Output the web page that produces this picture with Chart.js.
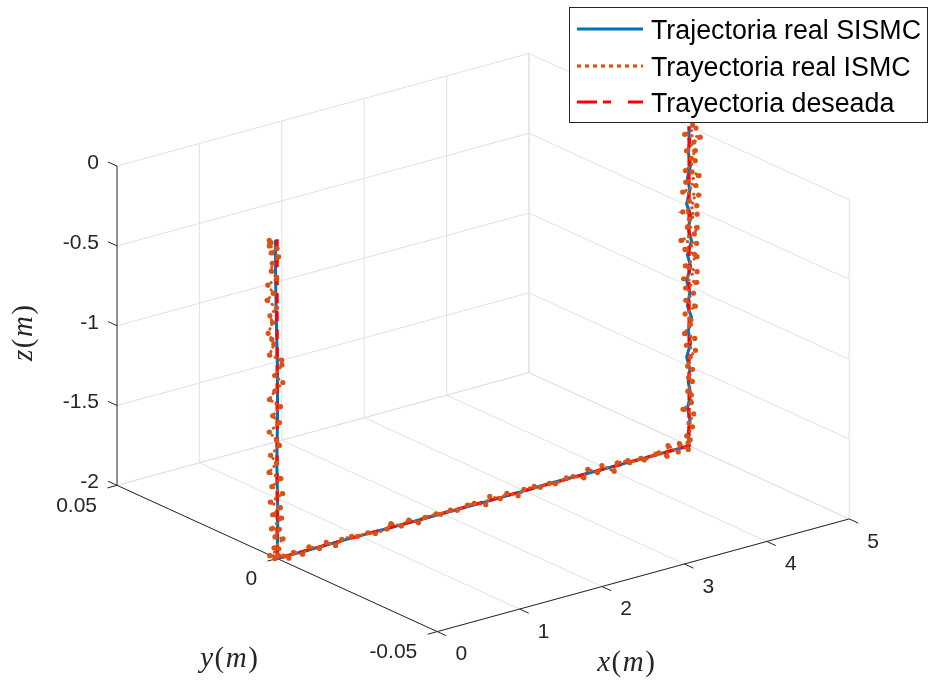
<!DOCTYPE html>
<html>
<head>
<meta charset="utf-8">
<script src="https://cdn.jsdelivr.net/npm/chart.js@4/dist/chart.umd.min.js"></script>
<style>
  html, body { margin: 0; padding: 0; background: #ffffff; }
  canvas { display: block; }
</style>
</head>
<body>
<canvas id="c" width="931" height="686" style="width:931px;height:686px"></canvas>
<script>
// ---- axis ticks ----
const xTicks = [0, 1, 2, 3, 4, 5];
const yTicks = [-0.05, 0, 0.05];
const zTicks = [-2, -1.5, -1, -0.5, 0];
const xTickLabels = ['0', '1', '2', '3', '4', '5'];
const yTickLabels = ['-0.05', '0', '0.05'];
const zTickLabels = ['-2', '-1.5', '-1', '-0.5', '0'];
const seriesNames = ['Trajectoria real SISMC', 'Trayectoria real ISMC', 'Trayectoria deseada'];

// ---- trajectories, [x, y, z] in metres ----
const desiredPath = [[0, 0, 0], [0, 0, -2], [5, 0, -2], [5, 0, 0]];

const sismcPath = [
  [-0.02, 0, 0], [-0.015, 0.0001, -0.25], [-0.01, 0, -0.5], [0.0, -0.0001, -0.8], [0.005, 0, -1.1],
  [0.0, 0.0001, -1.4], [0.008, 0, -1.7], [0.003, -0.0001, -1.9], [0, 0, -2],
  [0.4, 0.0002, -2.004], [0.9, -0.0002, -1.996], [1.5, 0.0001, -2.003], [2.1, -0.0003, -1.998],
  [2.7, 0.0002, -2.005], [3.3, -0.0001, -1.995], [3.9, 0.0003, -2.004], [4.4, -0.0002, -1.997],
  [4.8, 0.0001, -2.002], [5.0, 0, -2.0],
  [4.99, 0, -1.92], [5.01, 0, -1.84], [4.98, 0, -1.76], [5.02, 0, -1.68], [4.99, 0, -1.60],
  [5.01, 0, -1.52], [4.97, 0, -1.44], [5.02, 0, -1.36], [4.99, 0, -1.28], [5.03, 0, -1.20],
  [4.98, 0, -1.12], [5.01, 0, -1.04], [4.97, 0, -0.96], [5.02, 0, -0.88], [4.98, 0, -0.80],
  [5.03, 0, -0.72], [4.99, 0, -0.64], [5.02, 0, -0.56], [4.97, 0, -0.48], [5.01, 0, -0.40],
  [4.98, 0, -0.32], [5.02, 0, -0.24], [4.99, 0, -0.16], [5.01, 0, -0.08], [5.00, 0, 0.0]
];

const ismcPath = [
  // descent at x = 0
  [-0.08, 0.0004, 0.00], [-0.10, -0.0003, -0.01], [-0.05, 0.0006, -0.02], [-0.09, 0.0001, -0.03],
  [-0.02, -0.0005, -0.05], [-0.06, 0.0003, -0.08], [0.01, -0.0002, -0.11], [-0.04, 0.0005, -0.15],
  [-0.07, 0.0000, -0.19], [-0.02, -0.0004, -0.24], [-0.09, 0.0006, -0.28], [-0.05, -0.0001, -0.33],
  [-0.11, 0.0003, -0.37], [-0.03, -0.0006, -0.42], [-0.08, 0.0002, -0.47], [-0.04, 0.0004, -0.52],
  [-0.12, -0.0003, -0.57], [-0.06, 0.0001, -0.62], [-0.02, 0.0005, -0.66], [-0.10, -0.0002, -0.71],
  [0.04, -0.0004, -0.76], [0.07, 0.0003, -0.80], [-0.03, 0.0000, -0.85], [0.05, -0.0005, -0.90],
  [-0.02, 0.0002, -0.95], [-0.07, 0.0006, -1.00], [0.03, -0.0003, -1.05], [-0.05, 0.0001, -1.10],
  [0.02, -0.0002, -1.15], [-0.08, 0.0004, -1.20], [-0.03, -0.0006, -1.25], [0.04, 0.0003, -1.30],
  [-0.06, 0.0005, -1.35], [-0.01, -0.0001, -1.40], [-0.09, 0.0002, -1.45], [0.03, -0.0004, -1.50],
  [-0.04, 0.0006, -1.55], [0.06, -0.0002, -1.60], [-0.07, 0.0003, -1.64], [0.02, -0.0005, -1.68],
  [-0.05, 0.0001, -1.72], [0.07, 0.0004, -1.76], [-0.08, -0.0003, -1.80], [0.05, 0.0006, -1.83],
  [-0.03, -0.0001, -1.86], [0.08, 0.0002, -1.89], [-0.06, -0.0006, -1.92], [0.04, 0.0005, -1.95],
  [-0.09, 0.0000, -1.97], [0.06, -0.0004, -1.99], [-0.02, 0.0002, -2.00],
  // run along x at z = -2
  [0.03, 0.0005, -1.988], [0.12, -0.0006, -2.010], [0.21, 0.0003, -1.994], [0.30, -0.0002, -2.014],
  [0.41, 0.0006, -1.991], [0.50, -0.0004, -2.004], [0.60, 0.0001, -1.985], [0.69, -0.0005, -2.011],
  [0.80, 0.0004, -1.997], [0.90, -0.0001, -1.987], [1.00, 0.0006, -2.008], [1.09, -0.0003, -1.990],
  [1.20, 0.0002, -2.015], [1.31, -0.0006, -1.995], [1.40, 0.0005, -1.984], [1.50, -0.0002, -2.006],
  [1.61, 0.0003, -1.989], [1.70, -0.0004, -2.013], [1.80, 0.0001, -1.998], [1.91, -0.0005, -1.986],
  [2.00, 0.0004, -2.009], [2.10, -0.0001, -1.993], [2.21, 0.0006, -2.016], [2.30, -0.0003, -1.988],
  [2.40, 0.0002, -1.996], [2.51, -0.0006, -2.012], [2.60, 0.0005, -1.983], [2.70, -0.0002, -2.005],
  [2.80, 0.0003, -1.990], [2.91, -0.0004, -2.014], [3.00, 0.0001, -1.992], [3.10, -0.0005, -1.982],
  [3.21, 0.0004, -2.010], [3.30, -0.0001, -1.994], [3.40, 0.0006, -2.017], [3.50, -0.0003, -1.987],
  [3.60, 0.0002, -1.997], [3.70, -0.0006, -2.012], [3.79, 0.0005, -1.981], [3.88, -0.0002, -2.008],
  [3.97, 0.0007, -1.985], [4.06, -0.0008, -2.020], [4.14, 0.0003, -1.989], [4.23, -0.0007, -1.978],
  [4.31, 0.0008, -2.016], [4.40, -0.0004, -1.991], [4.48, 0.0006, -2.021], [4.56, -0.0009, -1.982],
  [4.64, 0.0002, -1.996], [4.71, -0.0006, -2.019], [4.78, 0.0009, -1.976], [4.85, -0.0005, -2.013],
  [4.91, 0.0007, -1.980], [4.96, -0.0008, -2.010], [5.00, 0.0003, -1.985],
  // climb at x = 5
  [5.03, 0.0004, -1.97], [4.96, -0.0003, -1.93], [5.05, 0.0002, -1.89], [4.98, -0.0005, -1.85],
  [5.06, 0.0001, -1.81], [4.95, 0.0006, -1.77], [5.02, -0.0002, -1.73], [5.04, 0.0003, -1.69],
  [4.97, -0.0004, -1.65], [5.06, 0.0005, -1.61], [4.99, -0.0001, -1.57], [5.05, 0.0002, -1.53],
  [4.96, -0.0006, -1.49], [5.03, 0.0004, -1.45], [5.07, -0.0002, -1.41], [4.98, 0.0003, -1.37],
  [5.05, -0.0005, -1.33], [4.95, 0.0001, -1.29], [5.04, 0.0006, -1.25], [5.01, -0.0003, -1.21],
  [4.96, 0.0002, -1.17], [5.06, -0.0004, -1.13], [4.98, 0.0005, -1.09], [5.05, -0.0001, -1.05],
  [4.97, 0.0003, -1.01],
  [5.07, -0.0006, -0.98], [4.95, 0.0004, -0.95], [5.09, -0.0002, -0.92], [5.02, 0.0006, -0.89],
  [4.94, -0.0004, -0.86], [5.10, 0.0001, -0.83], [5.04, -0.0007, -0.80], [4.97, 0.0005, -0.77],
  [5.08, -0.0003, -0.74], [4.93, 0.0007, -0.71], [5.06, -0.0001, -0.68], [5.11, 0.0003, -0.65],
  [4.96, -0.0005, -0.62], [5.03, 0.0006, -0.59], [5.09, -0.0002, -0.56], [4.94, 0.0004, -0.53],
  [5.07, -0.0006, -0.50], [5.01, 0.0002, -0.47], [5.10, -0.0004, -0.44], [4.95, 0.0007, -0.41],
  [5.08, -0.0001, -0.38], [4.98, 0.0005, -0.35], [5.11, -0.0003, -0.32], [5.04, 0.0001, -0.29],
  [4.93, -0.0007, -0.26], [5.09, 0.0004, -0.23], [5.02, -0.0002, -0.20], [5.10, 0.0006, -0.17],
  [4.95, -0.0005, -0.14], [5.07, 0.0003, -0.11], [5.12, -0.0004, -0.08], [4.97, 0.0006, -0.05],
  [5.08, -0.0001, -0.02], [5.05, 0.0002, 0.00]
];

// ---- 3-D view: orthographic camera expressed as screen basis vectors ----
const BOX = { x: [0, 5], y: [-0.05, 0.05], z: [-2, 0] };
const VIEW = {
  origin: [114, 487],          // screen position of (x=0, y=0.05, z=-2)
  ex: [83.1, -22.8],           // per metre of x
  ey: [-3230, -1480],          // per metre of y
  ez: [0, -161.5]              // per metre of z
};
function project(p) {
  const dx = p[0] - BOX.x[0], dy = p[1] - BOX.y[1], dz = p[2] - BOX.z[0];
  return {
    x: VIEW.origin[0] + VIEW.ex[0] * dx + VIEW.ey[0] * dy + VIEW.ez[0] * dz,
    y: VIEW.origin[1] + VIEW.ex[1] * dx + VIEW.ey[1] * dy + VIEW.ez[1] * dz
  };
}

const COLORS = { sismc: '#0072BD', ismc: '#D95319', ref: '#FF0000', axis: '#262626', grid: '#e1e1e1' };
const TICK_FONT = '21px "Liberation Sans", Arial, sans-serif';
const LEGEND_FONT = '26.8px "Liberation Sans", Arial, sans-serif';

// ---- plugin: 3-D box, grid, ticks and axis labels ----
const box3d = {
  id: 'box3d',
  beforeDatasetsDraw(chart) {
    const ctx = chart.ctx;
    const sx = chart.scales.x, sy = chart.scales.y;
    const P = (p) => { const q = project(p); return [sx.getPixelForValue(q.x), sy.getPixelForValue(q.y)]; };
    const seg = (a, b) => { const A = P(a), B = P(b); ctx.beginPath(); ctx.moveTo(A[0], A[1]); ctx.lineTo(B[0], B[1]); ctx.stroke(); };
    const [x0, x1] = BOX.x, [y0, y1] = BOX.y, [z0, z1] = BOX.z;

    ctx.save();
    ctx.lineWidth = 1;
    ctx.strokeStyle = COLORS.grid;
    // back wall at y = y1
    xTicks.forEach(x => { if (x !== x0) seg([x, y1, z0], [x, y1, z1]); });
    zTicks.forEach(z => seg([x0, y1, z], [x1, y1, z]));
    // back wall at x = x1
    yTicks.forEach(y => seg([x1, y, z0], [x1, y, z1]));
    zTicks.forEach(z => seg([x1, y0, z], [x1, y1, z]));
    // floor z = z0
    xTicks.forEach(x => seg([x, y0, z0], [x, y1, z0]));
    yTicks.forEach(y => seg([x0, y, z0], [x1, y, z0]));

    // axis lines
    ctx.strokeStyle = COLORS.axis;
    seg([x0, y1, z0], [x0, y1, z1]);   // z axis
    seg([x0, y1, z0], [x0, y0, z0]);   // y axis
    seg([x0, y0, z0], [x1, y0, z0]);   // x axis

    // tick marks
    const unit = (v, len) => { const n = Math.hypot(v[0], v[1]); return [v[0] / n * len, v[1] / n * len]; };
    const tz = unit(VIEW.ey, 10), ty = unit([-VIEW.ex[0], -VIEW.ex[1]], 10), tx = unit([-VIEW.ey[0], -VIEW.ey[1]], 10);
    const tick = (p, d) => { const A = P(p); ctx.beginPath(); ctx.moveTo(A[0], A[1]); ctx.lineTo(A[0] + d[0], A[1] + d[1]); ctx.stroke(); };
    zTicks.forEach(z => tick([x0, y1, z], tz));
    yTicks.forEach(y => tick([x0, y, z0], ty));
    xTicks.forEach(x => tick([x, y0, z0], tx));

    // tick labels
    ctx.fillStyle = COLORS.axis;
    ctx.font = TICK_FONT;
    ctx.textBaseline = 'middle';
    ctx.textAlign = 'right';
    zTicks.forEach((z, i) => { const A = P([x0, y1, z]); ctx.fillText(zTickLabels[i], A[0] - 18, A[1] - 3); });
    yTicks.forEach((y, i) => { const A = P([x0, y, z0]); ctx.fillText(yTickLabels[i], A[0] - 20, A[1] + 21); });
    ctx.textAlign = 'center';
    xTicks.forEach((x, i) => { const A = P([x, y0, z0]); ctx.fillText(xTickLabels[i], A[0] + 24, A[1] + 23); });

    // axis titles, typeset as italic symbols with upright parentheses
    drawMath(ctx, [['x', 1], ['(', 0], ['m', 1], [')', 0]], 626, 663, 0);
    drawMath(ctx, [['y', 1], ['(', 0], ['m', 1], [')', 0]], 229, 659, 0);
    drawMath(ctx, [['z', 1], ['(', 0], ['m', 1], [')', 0]], 24, 333, -Math.PI / 2);
    ctx.restore();
  },
  afterDraw(chart) {
    const ctx = chart.ctx;
    ctx.save();
    const bx = 569.5, by = 7.5, bw = 358, bh = 115;
    ctx.fillStyle = '#ffffff';
    ctx.fillRect(bx, by, bw, bh);
    ctx.strokeStyle = COLORS.axis;
    ctx.lineWidth = 1;
    ctx.strokeRect(bx, by, bw, bh);
    const rows = [29, 66, 102];
    const styles = [
      { c: COLORS.sismc, dash: [] },
      { c: COLORS.ismc, dash: [4, 4] },
      { c: COLORS.ref, dash: [20, 6, 8, 17] }
    ];
    rows.forEach((y, i) => {
      ctx.strokeStyle = styles[i].c;
      ctx.lineWidth = 3.2;
      ctx.setLineDash(styles[i].dash);
      ctx.beginPath();
      ctx.moveTo(577, y);
      ctx.lineTo(643, y);
      ctx.stroke();
    });
    ctx.setLineDash([]);
    ctx.fillStyle = '#000000';
    ctx.font = LEGEND_FONT;
    ctx.textAlign = 'left';
    ctx.textBaseline = 'alphabetic';
    rows.forEach((y, i) => ctx.fillText(seriesNames[i], 651, y + 9.5));
    ctx.restore();
  }
};

function drawMath(ctx, parts, cx, cy, rot) {
  const fontFor = (it) => (it ? 'italic ' : '') + '29px "Liberation Serif", "Times New Roman", serif';
  const gap = 1.5;
  let total = 0;
  const widths = parts.map(([t, it]) => { ctx.font = fontFor(it); const w = ctx.measureText(t).width; total += w; return w; });
  total += gap * (parts.length - 1);
  ctx.save();
  ctx.translate(cx, cy);
  ctx.rotate(rot);
  ctx.fillStyle = '#262626';
  ctx.textBaseline = 'middle';
  ctx.textAlign = 'left';
  let x = -total / 2;
  parts.forEach(([t, it], i) => { ctx.font = fontFor(it); ctx.fillText(t, x, 0); x += widths[i] + gap; });
  ctx.restore();
}

const toScreen = (path) => path.map(project);

new Chart(document.getElementById('c'), {
  type: 'scatter',
  data: {
    datasets: [
      {
        label: seriesNames[0], data: toScreen(sismcPath), showLine: true,
        borderColor: COLORS.sismc, borderWidth: 3, pointRadius: 0, order: 3
      },
      {
        label: seriesNames[1], data: toScreen(ismcPath), showLine: true,
        borderColor: COLORS.ismc, borderWidth: 3, borderDash: [0.5, 4.5], borderCapStyle: 'round',
        pointRadius: 2.6, pointBackgroundColor: COLORS.ismc, pointBorderWidth: 0, order: 1
      },
      {
        label: seriesNames[2], data: toScreen(desiredPath), showLine: true,
        borderColor: COLORS.ref, borderWidth: 3.2, borderDash: [10, 8], pointRadius: 0, order: 2
      }
    ]
  },
  options: {
    responsive: false,
    animation: false,
    devicePixelRatio: 1,
    layout: { padding: 0 },
    scales: {
      x: { type: 'linear', min: 0, max: 931, display: false },
      y: { type: 'linear', min: 0, max: 686, reverse: true, display: false }
    },
    plugins: { legend: { display: false }, tooltip: { enabled: false } },
    elements: { line: { tension: 0 } }
  },
  plugins: [box3d]
});
</script>
</body>
</html>
